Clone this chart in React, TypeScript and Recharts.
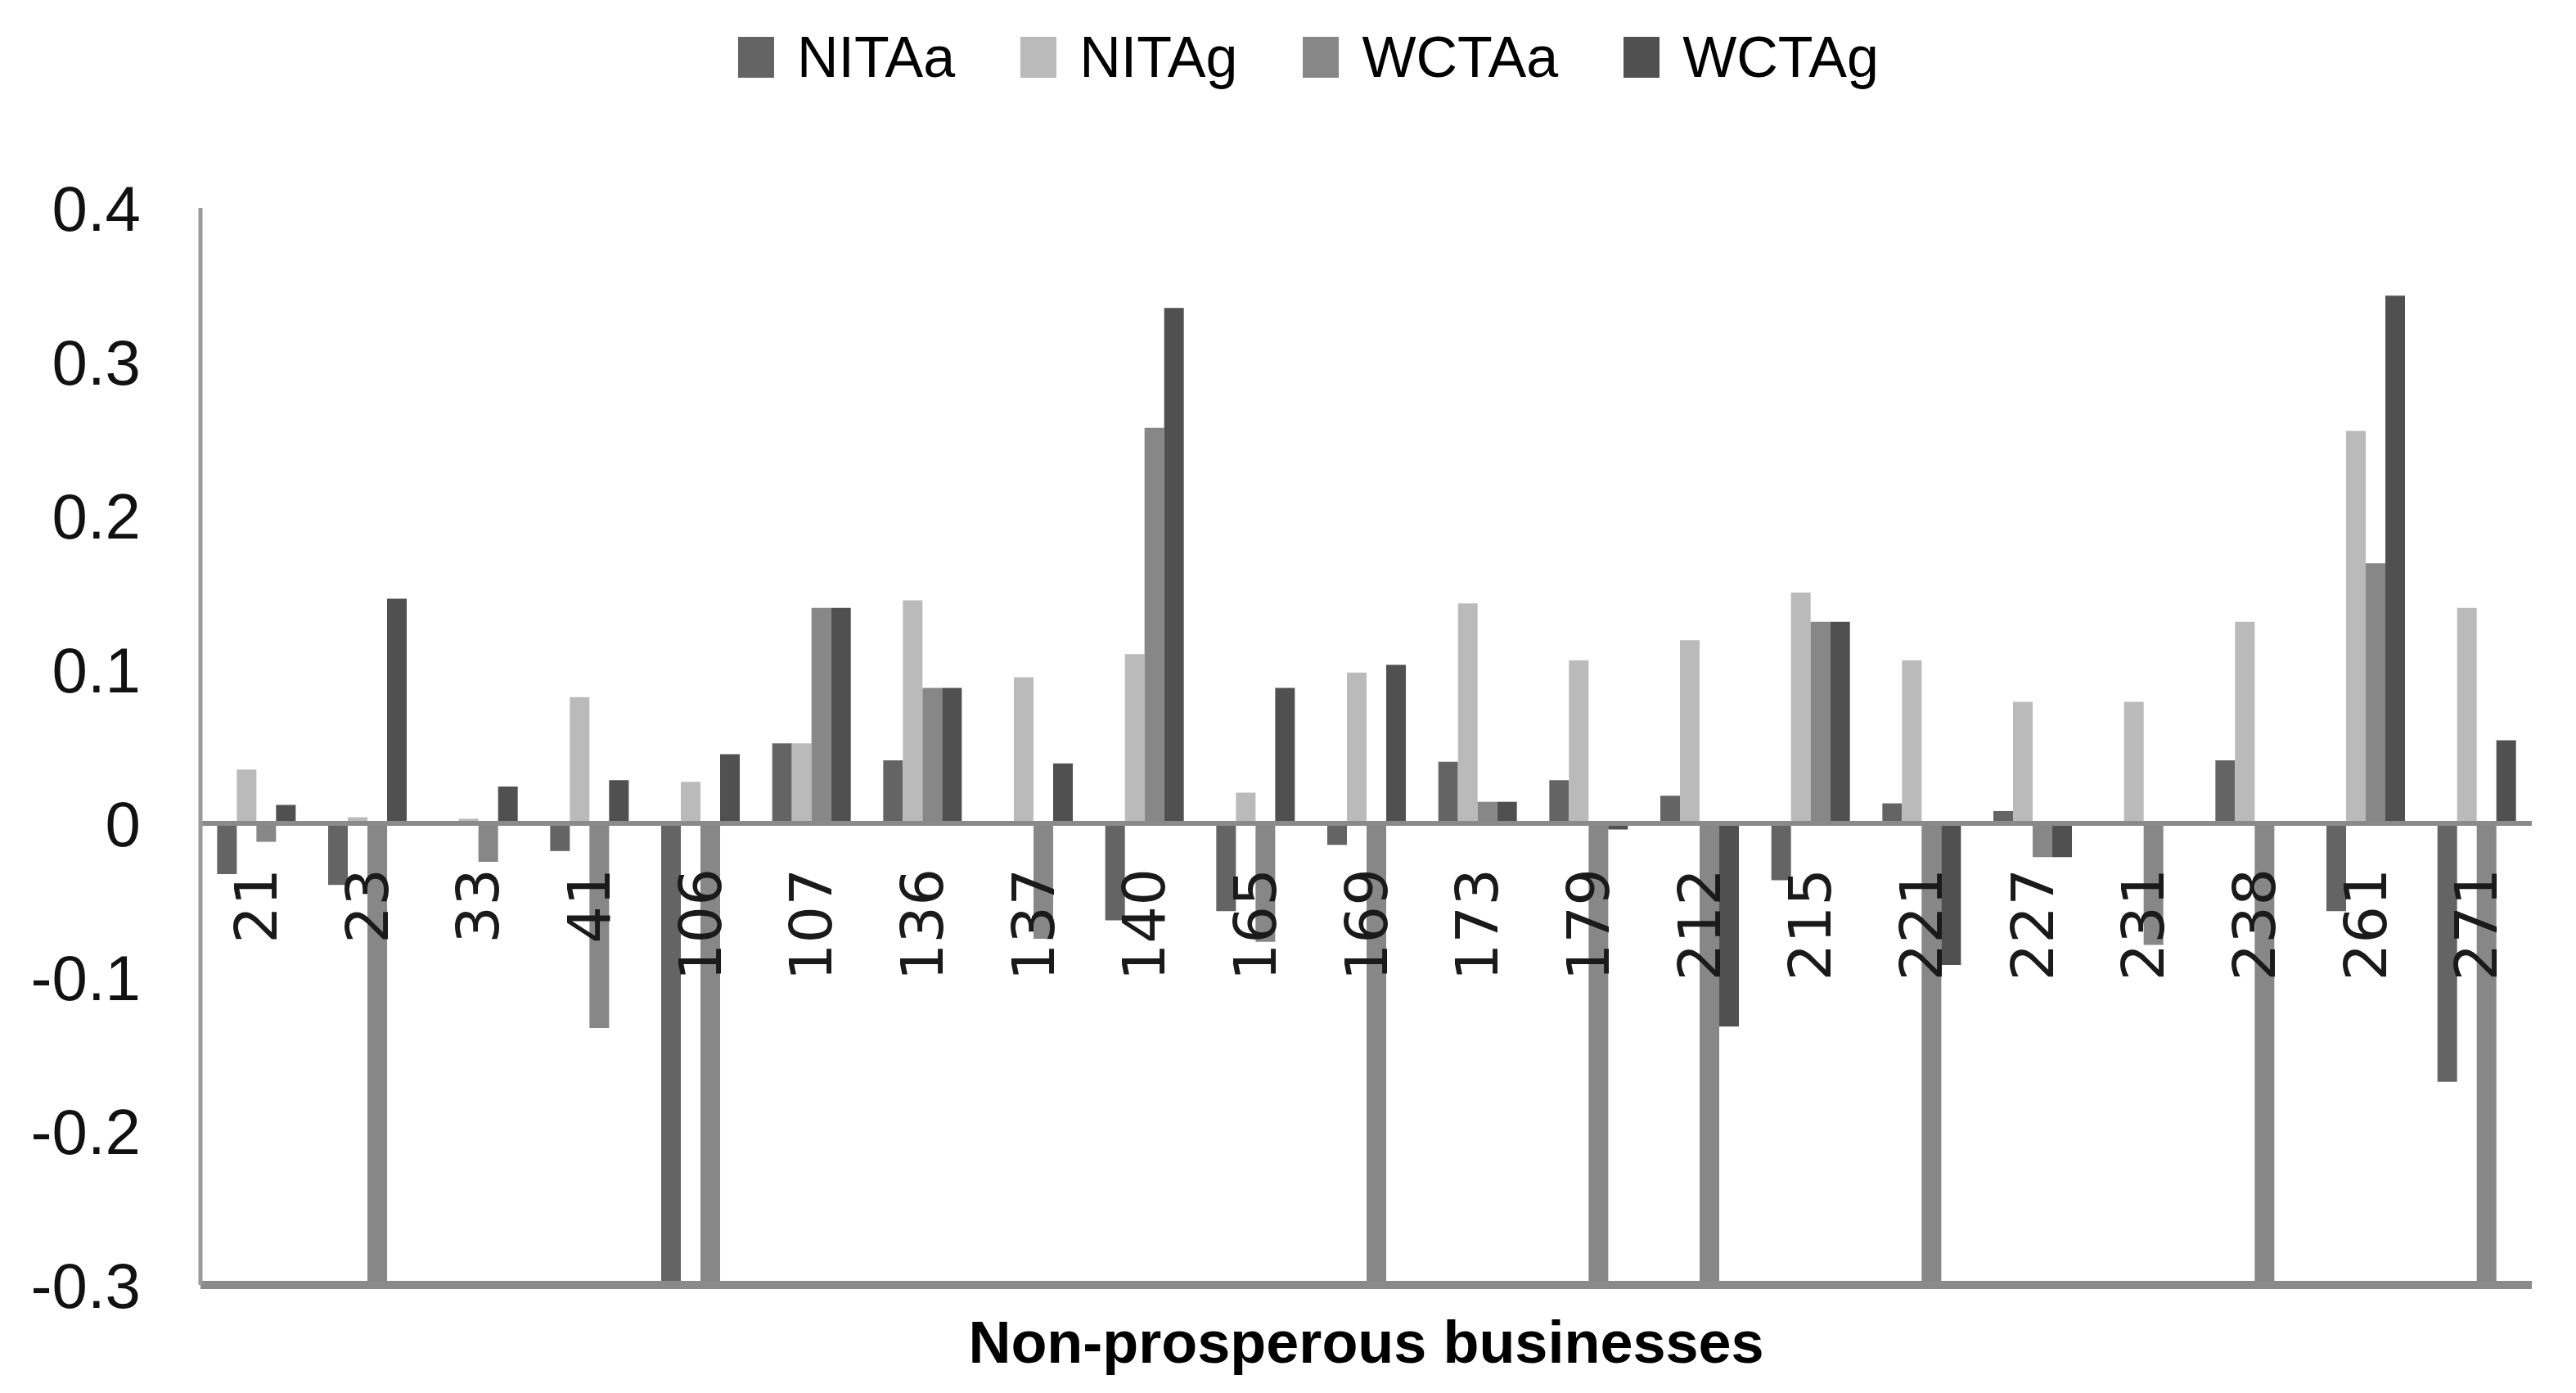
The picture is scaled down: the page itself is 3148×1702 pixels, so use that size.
import React from 'react';
import { BarChart, Bar, XAxis, YAxis, ReferenceLine, Legend } from 'recharts';

const categories = ['21', '23', '33', '41', '106', '107', '136', '137', '140', '165', '169', '173', '179', '212', '215', '221', '227', '231', '238', '261', '271'];

const nitaA = [-0.033, -0.04, 0.001, -0.018, -0.3, 0.052, 0.041, 0, -0.063, -0.057, -0.014, 0.04, 0.028, 0.018, -0.037, 0.013, 0.008, 0, 0.041, -0.057, -0.168];
const nitaG = [0.035, 0.004, 0.003, 0.082, 0.027, 0.052, 0.145, 0.095, 0.11, 0.02, 0.098, 0.143, 0.106, 0.119, 0.15, 0.106, 0.079, 0.079, 0.131, 0.255, 0.14];
const wctaA = [-0.012, -0.3, -0.025, -0.133, -0.3, 0.14, 0.088, -0.075, 0.257, -0.077, -0.3, 0.014, -0.3, -0.3, 0.131, -0.3, -0.022, -0.079, -0.3, 0.169, -0.3];
const wctaG = [0.012, 0.146, 0.024, 0.028, 0.045, 0.14, 0.088, 0.039, 0.335, 0.088, 0.103, 0.014, -0.004, -0.132, 0.131, -0.092, -0.022, 0.001, 0.001, 0.343, 0.054];

const yTicks = [-0.3, -0.2, -0.1, 0, 0.1, 0.2, 0.3, 0.4];
const yDomain = [-0.3, 0.4];

const series = [
  { key: 'NITAa', color: '#646464' },
  { key: 'NITAg', color: '#bababa' },
  { key: 'WCTAa', color: '#878787' },
  { key: 'WCTAg', color: '#505050' },
];

const data = categories.map((id, i) => ({
  id,
  NITAa: nitaA[i],
  NITAg: nitaG[i],
  WCTAa: wctaA[i],
  WCTAg: wctaG[i],
}));

const W = 3148;
const H = 1702;
const TOP = 254;
const X_AXIS_H = 132;
const plotH = H - TOP - X_AXIS_H;
// where the value 0 falls, so category labels hang off the zero line like in Excel
const zeroY = TOP + (yDomain[1] / (yDomain[1] - yDomain[0])) * plotH;

const CategoryTick = (props: any) => {
  const { x, payload } = props;
  const ty = zeroY + 55;
  return (
    <text
      x={x}
      y={ty}
      transform={`rotate(-90, ${x}, ${ty})`}
      textAnchor="end"
      dominantBaseline="central"
      fontFamily="'DejaVu Sans', sans-serif"
      fontSize={72}
      fill="#1a1a1a"
    >
      {payload.value}
    </text>
  );
};

const LegendContent = () => (
  <div style={{ display: 'flex', justifyContent: 'center', paddingLeft: 50 }}>
    {series.map((s, i) => (
      <div key={s.key} style={{ display: 'flex', alignItems: 'center', marginLeft: i === 0 ? 0 : 80 }}>
        <span style={{ width: 44, height: 50, background: s.color, display: 'inline-block', marginRight: 28 }} />
        <span style={{ fontSize: 70, color: '#000', lineHeight: '80px' }}>{s.key}</span>
      </div>
    ))}
  </div>
);

export default function App() {
  return (
    <div style={{ position: 'absolute', left: 0, top: 0, fontFamily: "'Liberation Sans', Arial, sans-serif", background: '#fff' }}>
      <BarChart
        width={W}
        height={H}
        data={data}
        margin={{ top: TOP, right: 54, bottom: 0, left: 0 }}
        barCategoryGap="15%"
        barGap={0}
      >
        <XAxis
          dataKey="id"
          tick={<CategoryTick />}
          tickLine={false}
          interval={0}
          height={X_AXIS_H}
          axisLine={{ stroke: '#8a8a8a', strokeWidth: 10 }}
          label={{
            value: 'Non-prosperous businesses',
            position: 'insideBottom',
            offset: 37,
            fontSize: 72,
            fontWeight: 'bold',
            fill: '#000',
          }}
        />
        <YAxis
          domain={yDomain}
          ticks={yTicks}
          allowDataOverflow
          width={245}
          tickLine={false}
          tickSize={0}
          tickMargin={73}
          axisLine={{ stroke: '#9a9a9a', strokeWidth: 5 }}
          tick={{ fontSize: 78, fill: '#111' }}
          tickFormatter={(v: number) => String(Math.round(v * 10) / 10)}
        />
        <Legend
          verticalAlign="middle"
          align="center"
          wrapperStyle={{ top: 30, left: 0, width: W }}
          content={<LegendContent />}
        />
        <ReferenceLine y={0} stroke="#8a8a8a" strokeWidth={6} />
        {series.map((s) => (
          <Bar key={s.key} dataKey={s.key} fill={s.color} isAnimationActive={false} />
        ))}
      </BarChart>
    </div>
  );
}
